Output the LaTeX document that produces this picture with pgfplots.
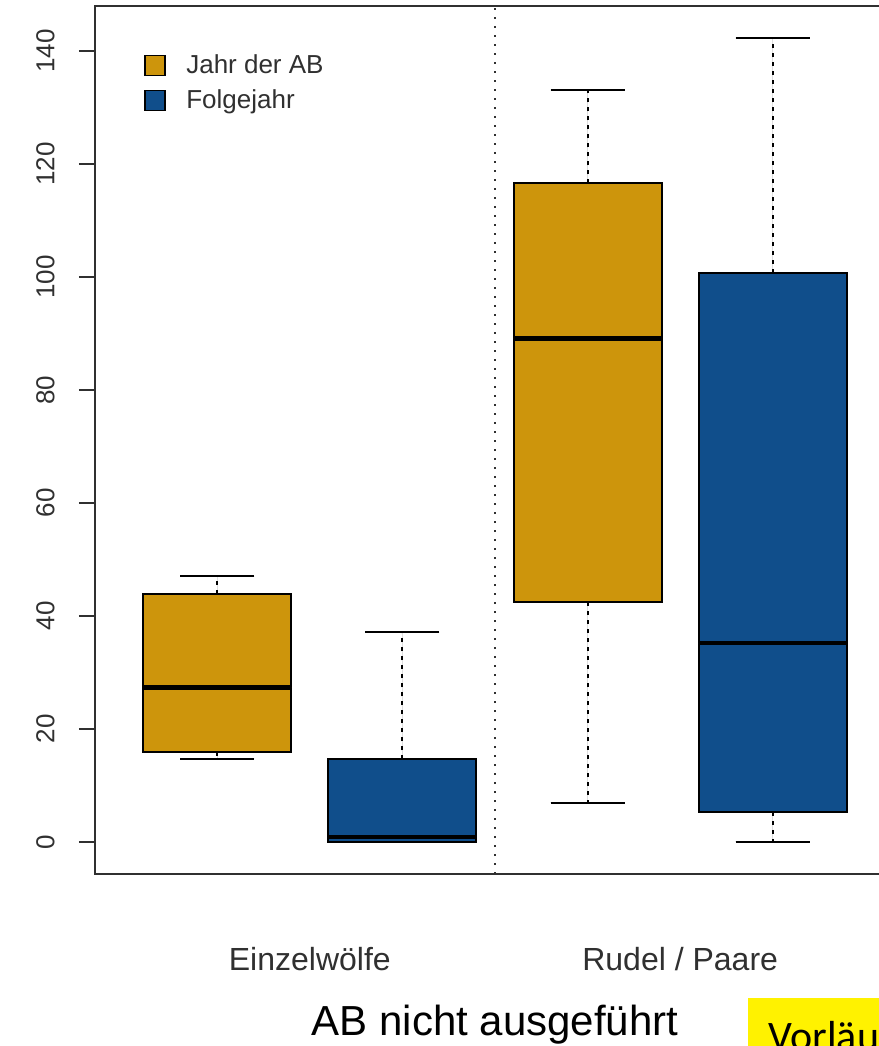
\documentclass[border=0pt]{standalone}
\usepackage{pgfplots}
\pgfplotsset{compat=1.18}
\usepgfplotslibrary{statistics}
\usepackage{fontspec}
\setmainfont{Liberation Sans}
\newfontfamily\calibrilike{Carlito}

\definecolor{jahr}{HTML}{CD950C}
\definecolor{folge}{HTML}{104E8B}
\definecolor{axisgray}{HTML}{303030}

\pgfplotsset{
  sqlegend/.style={legend image code/.code={%
      \draw[##1, line width=0.9pt] (0pt,-5pt) rectangle (10pt,5pt);
      \path[draw=none, fill=none] (0pt,0pt) -- (18.5pt,0pt);}},
}

\begin{document}
\begin{tikzpicture}
\useasboundingbox (0,0) rectangle (439.5pt,523pt);
\clip (0,0) rectangle (439.5pt,523pt);
\begin{axis}[
  at={(47.5pt,86pt)}, anchor=south west,
  scale only axis, width=400pt, height=434pt,
  xmin=0.34, xmax=4.66, ymin=-5.69, ymax=147.99,
  axis line style={axisgray, line width=1pt},
  ytick={0,20,...,140},
  ytick pos=left, tick align=outside, major tick length=8pt,
  ytick style={axisgray, line width=1pt},
  yticklabel style={font=\fontsize{13}{15}\selectfont, text=axisgray,
    rotate=90, anchor=south, inner sep=0pt},
  yticklabel shift=12pt,
  xtick={1.5,3.5},
  xticklabels={Einzelwölfe, Rudel / Paare},
  xtick style={draw=none},
  xticklabel style={font=\fontsize{16}{19}\selectfont, text=axisgray,
    anchor=base, inner sep=0pt},
  xticklabel shift=40pt,
  xlabel={AB nicht ausgeführt},
  xlabel style={at={(axis description cs:0.5,0)}, anchor=base,
    yshift=-80.5pt, font=\fontsize{21}{25}\selectfont, text=black},
  /pgf/number format/assume math mode=true,
  legend style={at={(rel axis cs:0.06125,0.949)}, anchor=north west,
    draw=none, fill=none, inner sep=0pt, row sep=2.5pt,
    font=\fontsize{13}{15}\selectfont, text=axisgray},
  legend cell align=left,
  boxplot/draw direction=y,
  boxplot/every median/.style={line width=2.2pt, draw=black},
  boxplot/draw/lower whisker/.code={%
    \draw[black, line width=1pt, dash pattern=on 2pt off 2.5pt]
      (boxplot box cs:\pgfplotsboxplotvalue{lower quartile},0.5) --
      (boxplot box cs:\pgfplotsboxplotvalue{lower whisker},0.5);
    \draw[black, line width=1pt]
      (boxplot whisker cs:\pgfplotsboxplotvalue{lower whisker},0) --
      (boxplot whisker cs:\pgfplotsboxplotvalue{lower whisker},1);
  },
  boxplot/draw/upper whisker/.code={%
    \draw[black, line width=1pt, dash pattern=on 2pt off 2.5pt]
      (boxplot box cs:\pgfplotsboxplotvalue{upper quartile},0.5) --
      (boxplot box cs:\pgfplotsboxplotvalue{upper whisker},0.5);
    \draw[black, line width=1pt]
      (boxplot whisker cs:\pgfplotsboxplotvalue{upper whisker},0) --
      (boxplot whisker cs:\pgfplotsboxplotvalue{upper whisker},1);
  },
]
% legend entries
\addlegendimage{sqlegend, fill=jahr, draw=black}
\addlegendentry{Jahr der AB}
\addlegendimage{sqlegend, fill=folge, draw=black}
\addlegendentry{Folgejahr}

% separator between the two groups
\addplot[axisgray, line width=1pt, dash pattern=on 1pt off 3.5pt, forget plot]
  coordinates {(2.5,-5.69) (2.5,147.99)};

% Einzelwölfe
\addplot[forget plot, fill=jahr, draw=black, line width=1pt,
  boxplot prepared={draw position=1, lower whisker=14.7, lower quartile=15.9,
    median=27.3, upper quartile=43.9, upper whisker=47.0,
    box extend=0.8, whisker extend=0.4}] coordinates {};
\addplot[forget plot, fill=folge, draw=black, line width=1pt,
  boxplot prepared={draw position=2, lower whisker=0, lower quartile=0,
    median=0.9, upper quartile=14.6, upper whisker=37.1,
    box extend=0.8, whisker extend=0.4}] coordinates {};

% Rudel / Paare
\addplot[forget plot, fill=jahr, draw=black, line width=1pt,
  boxplot prepared={draw position=3, lower whisker=6.9, lower quartile=42.4,
    median=89.1, upper quartile=116.6, upper whisker=133.1,
    box extend=0.8, whisker extend=0.4}] coordinates {};
\addplot[forget plot, fill=folge, draw=black, line width=1pt,
  boxplot prepared={draw position=4, lower whisker=0, lower quartile=5.3,
    median=35.2, upper quartile=100.7, upper whisker=142.3,
    box extend=0.8, whisker extend=0.4}] coordinates {};
\end{axis}

\fill[yellow] (374pt,-2pt) rectangle (445pt,24pt);
\node[anchor=base west, inner sep=0pt, font=\calibrilike\fontsize{21}{25}\selectfont]
  at (384pt,-2pt) {Vorläufige Ergebnisse};
\end{tikzpicture}
\end{document}
